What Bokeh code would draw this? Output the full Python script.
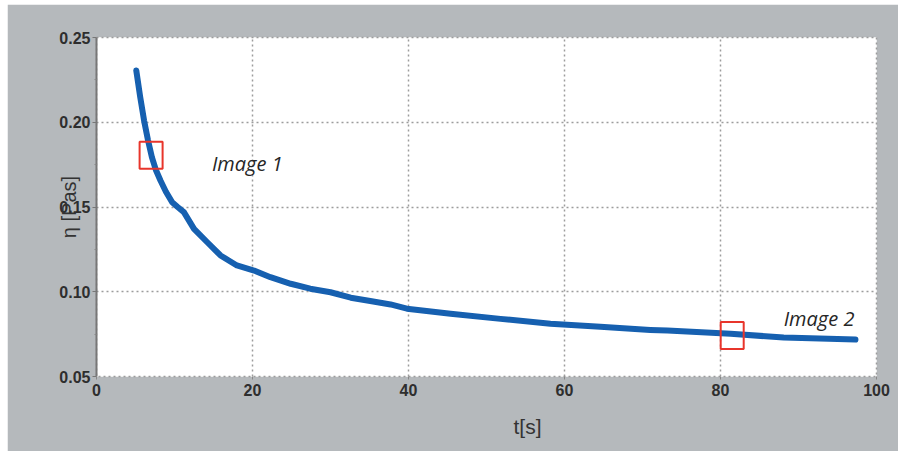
import math
from bokeh.plotting import figure
from bokeh.models import Range1d, FixedTicker, PrintfTickFormatter, Title
from bokeh.core.properties import value
from bokeh.embed import file_html
from bokeh.resources import INLINE

# ---- data ----
t_s = [5.1, 5.6, 6.1, 6.6, 7.1, 7.6, 8.2, 8.9, 9.7, 10.4, 11.2, 12.5, 14.2, 15.9,
       18.0, 20.2, 22.3, 24.9, 27.4, 30.0, 32.6, 35.1, 37.7, 39.8, 45.4, 51.8,
       58.2, 64.6, 71.0, 73.2, 81.3, 88.1, 97.3]
eta = [0.2305, 0.2150, 0.2010, 0.1895, 0.1794, 0.1720, 0.1656, 0.1590, 0.1528,
       0.1500, 0.1470, 0.1371, 0.1292, 0.1214, 0.1155, 0.1125, 0.1086, 0.1047,
       0.1018, 0.0997, 0.0965, 0.0945, 0.0925, 0.0900, 0.0870, 0.0840, 0.0811,
       0.0793, 0.0775, 0.0771, 0.0752, 0.0730, 0.0718]

mark_t = [7.0, 81.5]
mark_eta = [0.1806, 0.0742]

note_text = ["Image 1", "Image 2"]
note_t = [14.8, 88.1]
note_eta = [0.1757, 0.0843]

x_ticks = [0, 20, 40, 60, 80, 100]
y_ticks = [0.05, 0.10, 0.15, 0.20, 0.25]

x_title = "t[s]"
y_title = "η [Pas]"

BG = "#b5b9bc"
TXT = "#333333"
GRID = "#9c9c9c"

p = figure(width=891, height=447, output_backend="svg", toolbar_location=None,
           x_range=Range1d(0, 100), y_range=Range1d(0.05, 0.25))
p.styles = {"margin-left": "7px", "margin-top": "4px"}
p.min_border_left = 89
p.min_border_right = 22
p.min_border_top = 33
p.min_border_bottom = 75
p.background_fill_color = "white"
p.border_fill_color = BG
p.outline_line_color = GRID
p.outline_line_dash = "2 3"
p.outline_line_width = 1.5

p.xgrid.ticker = FixedTicker(ticks=x_ticks)
p.ygrid.ticker = FixedTicker(ticks=y_ticks)
for g in (p.xgrid, p.ygrid):
    g.grid_line_color = GRID
    g.grid_line_dash = "2 3"
    g.grid_line_width = 1.5

xa = p.xaxis[0]
xa.ticker = FixedTicker(ticks=x_ticks)
xa.formatter = PrintfTickFormatter(format="%d")
xa.axis_line_color = None
xa.major_tick_line_color = "#888888"
xa.major_tick_out = 3
xa.major_tick_in = 0
xa.minor_tick_line_color = None
xa.major_label_standoff = 4

ya = p.yaxis[0]
ya.ticker = FixedTicker(ticks=y_ticks, minor_ticks=[0.075, 0.125, 0.175, 0.225])
ya.formatter = PrintfTickFormatter(format="%.2f")
ya.axis_line_color = "#777777"
ya.axis_line_width = 2
ya.major_tick_line_color = "#777777"
ya.major_tick_out = 4
ya.major_tick_in = 0
ya.minor_tick_line_color = "#888888"
ya.minor_tick_out = 2
ya.minor_tick_in = 0
ya.major_label_standoff = 2
ya.axis_label = y_title
ya.axis_label_text_font = "Liberation Sans"
ya.axis_label_text_font_style = "normal"
ya.axis_label_text_font_size = "20px"
ya.axis_label_text_color = TXT
ya.axis_label_standoff = -24

for a in (xa, ya):
    a.major_label_text_font = "Liberation Sans"
    a.major_label_text_font_style = "bold"
    a.major_label_text_font_size = "16px"
    a.major_label_text_color = "#2e2e2e"

p.line(t_s, eta, line_color="#1660b0", line_width=6,
       line_join="round", line_cap="round")

p.rect(mark_t, mark_eta, width=23, height=27, width_units="screen",
       height_units="screen", fill_color=None, line_color="#e8352b", line_width=2)

p.text(note_t, note_eta, text=note_text, text_font=value("Open Sans"),
       text_font_style="italic", text_font_size="20px", text_color="#262626",
       text_baseline="alphabetic", text_align="left")

p.add_layout(Title(text=x_title, align="left", offset=417, standoff=28,
                   text_font="Liberation Sans", text_font_style="normal",
                   text_font_size="21px", text_color=TXT), "below")

open("out.html", "w").write(file_html(p, INLINE))
